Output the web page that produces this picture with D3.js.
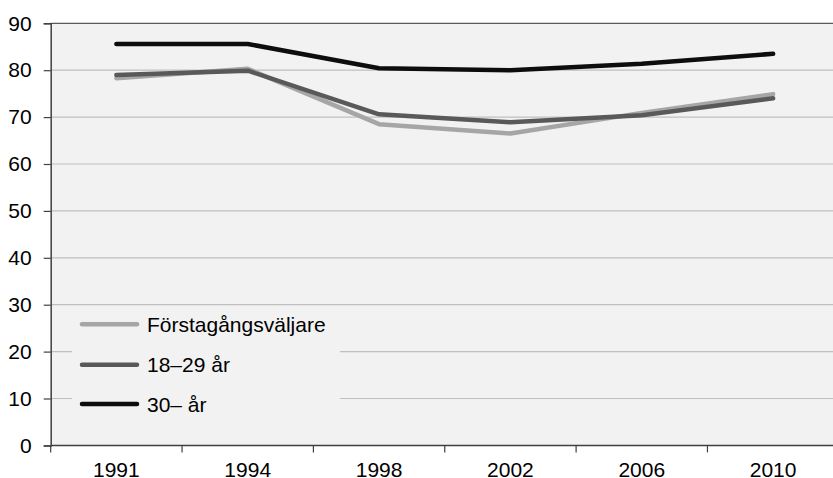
<!DOCTYPE html>
<html>
<head>
<meta charset="utf-8">
<title>Valdeltagande</title>
<script src="https://cdn.jsdelivr.net/npm/d3@7/dist/d3.min.js"></script>
<style>
  body { margin: 0; background: #fff; }
  text { font-family: "Liberation Sans", Arial, sans-serif; fill: #000; }
</style>
</head>
<body>
<div id="chart"></div>
<script>
// data
const years = ["1991", "1994", "1998", "2002", "2006", "2010"];
const forstagangs = [78.3, 80.3, 68.5, 66.5, 70.9, 74.9];
const unga = [79.0, 79.9, 70.6, 68.9, 70.4, 74.0];
const aldre = [85.6, 85.6, 80.4, 80.0, 81.4, 83.5];
const yTicks = [0, 10, 20, 30, 40, 50, 60, 70, 80, 90];

const series = [
  { name: "Förstagångsväljare", values: forstagangs, color: "#a6a6a6" },
  { name: "18–29 år", values: unga, color: "#595959" },
  { name: "30– år", values: aldre, color: "#0d0d0d" }
];

const W = 833, H = 478;
const plot = { left: 50.7, top: 23.3, bottom: 445.4, right: 838.8 };

const svg = d3.select("#chart").append("svg")
    .attr("width", W).attr("height", H);

const x = d3.scaleBand().domain(years).range([plot.left, plot.right]).padding(0);
const y = d3.scaleLinear().domain([0, 90]).range([plot.bottom, plot.top]);

// plot background
svg.append("rect")
    .attr("x", plot.left).attr("y", plot.top)
    .attr("width", plot.right - plot.left).attr("height", plot.bottom - plot.top)
    .attr("fill", "#f2f2f2");

// gridlines
svg.append("g").selectAll("line")
    .data(yTicks.filter(d => d > 0 && d < 90))
    .enter().append("line")
    .attr("x1", plot.left).attr("x2", plot.right)
    .attr("y1", d => y(d)).attr("y2", d => y(d))
    .attr("stroke", "#bfbfbf").attr("stroke-width", 1.2);

// top border
svg.append("line")
    .attr("x1", plot.left).attr("x2", plot.right)
    .attr("y1", y(90)).attr("y2", y(90))
    .attr("stroke", "#5a5a5a").attr("stroke-width", 1.3);

// y axis
const yAxis = d3.axisLeft(y).tickValues(yTicks).tickSize(7).tickPadding(12);
const gy = svg.append("g").attr("transform", "translate(" + plot.left + ",0)").call(yAxis);
gy.select(".domain").attr("stroke", "#404040").attr("stroke-width", 1.5);
gy.selectAll(".tick line").attr("stroke", "#404040").attr("stroke-width", 1.2);
gy.selectAll("text").style("font-size", "21px").style("font-family", "'Liberation Sans', Arial, sans-serif").attr("fill", "#000");

// x axis: ticks at band edges, labels at band centres
const edges = years.map(d => x(d)).concat([x.range()[1]]);
svg.append("line")
    .attr("x1", plot.left).attr("x2", plot.right)
    .attr("y1", plot.bottom).attr("y2", plot.bottom)
    .attr("stroke", "#404040").attr("stroke-width", 1.5);
svg.append("g").selectAll("line")
    .data(edges).enter().append("line")
    .attr("x1", d => d).attr("x2", d => d)
    .attr("y1", plot.bottom).attr("y2", plot.bottom + 7)
    .attr("stroke", "#404040").attr("stroke-width", 1.2);
svg.append("g").selectAll("text")
    .data(years).enter().append("text")
    .attr("x", d => x(d) + x.bandwidth() / 2)
    .attr("y", 476.5)
    .attr("text-anchor", "middle")
    .style("font-size", "21px")
    .text(d => d);

// lines
const line = d3.line()
    .x((d, i) => x(years[i]) + x.bandwidth() / 2)
    .y(d => y(d));

svg.append("g").selectAll("path")
    .data(series).enter().append("path")
    .attr("d", d => line(d.values))
    .attr("fill", "none")
    .attr("stroke", d => d.color)
    .attr("stroke-width", 4.5)
    .attr("stroke-linecap", "round")
    .attr("stroke-linejoin", "round");

// legend
const lg = svg.append("g");
lg.append("rect")
    .attr("x", 72).attr("y", 310)
    .attr("width", 268).attr("height", 116)
    .attr("fill", "#f2f2f2");
const rows = lg.selectAll("g.row")
    .data(series).enter().append("g")
    .attr("class", "row")
    .attr("transform", (d, i) => "translate(0," + [324.3, 364.7, 404][i] + ")");
rows.append("line")
    .attr("x1", 82).attr("x2", 137)
    .attr("stroke", d => d.color)
    .attr("stroke-width", 4.5)
    .attr("stroke-linecap", "round");
rows.append("text")
    .attr("x", 147).attr("y", 0)
    .attr("dy", "0.36em")
    .style("font-size", "21px")
    .text(d => d.name);
</script>
</body>
</html>
